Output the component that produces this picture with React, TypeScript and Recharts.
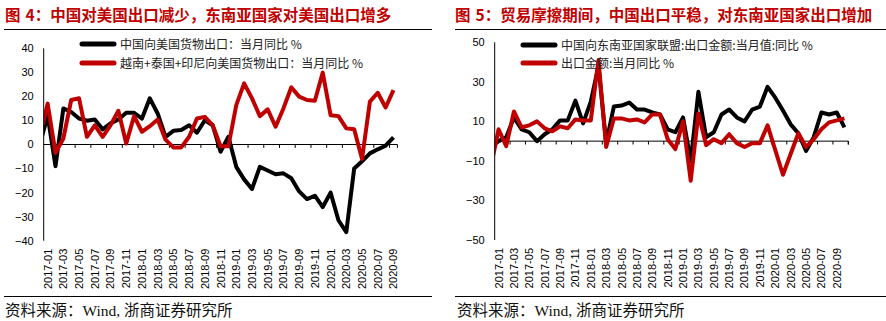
import React from 'react';
import { LineChart, Line, XAxis, YAxis, ReferenceLine, Legend } from 'recharts';

// ---------- categories (first entry 2016-12 is only partly visible at the left edge) ----------
const leftMonths = [
  '2016-12',
  '2017-01', '2017-02', '2017-03', '2017-04', '2017-05', '2017-06', '2017-07', '2017-08', '2017-09', '2017-10', '2017-11', '2017-12',
  '2018-01', '2018-02', '2018-03', '2018-04', '2018-05', '2018-06', '2018-07', '2018-08', '2018-09', '2018-10', '2018-11', '2018-12',
  '2019-01', '2019-02', '2019-03', '2019-04', '2019-05', '2019-06', '2019-07', '2019-08', '2019-09', '2019-10', '2019-11', '2019-12',
  '2020-01', '2020-02', '2020-03', '2020-04', '2020-05', '2020-06', '2020-07', '2020-08', '2020-09',
];
const rightMonths = [...leftMonths, '2020-10'];

const tickLabels = [
  '2017-01', '2017-03', '2017-05', '2017-07', '2017-09', '2017-11',
  '2018-01', '2018-03', '2018-05', '2018-07', '2018-09', '2018-11',
  '2019-01', '2019-03', '2019-05', '2019-07', '2019-09', '2019-11',
  '2020-01', '2020-03', '2020-05', '2020-07', '2020-09',
];

// ---------- series (figure 4) ----------
const chinaToUS = [
  0,
  12, -9, 15, 13.5, 10.8, 9.9, 10.4, 6.3, 8.8, 10.4, 13.2, 13.2,
  10.8, 19.2, 12.9, 3.2, 5.7, 6, 8, 4.9, 10.1, 8, -3, 3.2,
  -9.3, -14.5, -18.5, -9.3, -10.8, -12.4, -12, -14, -19.5, -22.7, -21.3, -26,
  -20, -31.5, -36.4, -10, -7, -3.7, -2, -0.5, 3,
];
const seaToUS = [
  3,
  17, -3.5, 2.5, 18.5, 19.2, 3.2, 8, 3.2, 8, 14, 0.4, 11.8,
  5.3, 7.6, 10.4, 2, -1.2, -1.2, 3.2, 10.8, 11.5, 8, -0.7, -0.7,
  16.4, 25.4, 19.2, 11.8, 14.6, 7.4, 15, 23.8, 19.9, 18.5, 18.2, 29.9,
  12.2, 11.8, 6.7, 6.3, -6, 17.8, 21.5, 15.4, 22.6,
];

// ---------- series (figure 5) ----------
const chinaToASEAN = [
  -3,
  0, 2, 12, 6, 4.5, 0, 3.5, 6, 10.5, 10.5, 20.5, 9,
  20, 38, -1, 17.5, 18, 19.5, 16, 16, 14.5, 13.5, 6, 4.5,
  12, -10, 25, 2, 4.5, 13.5, 16, 12, 10, 16, 17.5, 27.5,
  22, 15.5, 8.5, 4, -5, 2, 14.5, 13.5, 14.5, 7,
];
const chinaExportTotal = [
  -13,
  6, -2.5, 15, 7, 8, 10, 6.5, 5, 7.5, 6.5, 11, 10.5,
  10.5, 41, -3, 11.5, 11.5, 10.5, 11, 9.5, 13.5, 13.5, 1, -4,
  10, -20, 14, -2, 1, -1, 3.5, -1, -3, -1, -1, 8,
  -4.5, -17, -6.5, 4, -3, 1, 6, 9.5, 10.5, 11.5,
];

const leftYTicks = [40, 30, 20, 10, 0, -10, -20, -30, -40];
const rightYTicks = [50, 30, 10, -10, -30, -50];

const leftNames = ['中国向美国货物出口：当月同比 %', '越南+泰国+印尼向美国货物出口：当月同比 %'];
const rightNames = ['中国向东南亚国家联盟:出口金额:当月值:同比 %', '出口金额:当月同比 %'];

const RED = '#C00000';
const BLACK = '#000000';
const TICK_FONT = '"Liberation Sans", Arial, sans-serif';
const CJK_FONT = '"Noto Sans CJK SC", sans-serif';

const leftData = leftMonths.map((m, i) => ({ idx: i, month: m, a: chinaToUS[i], b: seaToUS[i] }));
const rightData = rightMonths.map((m, i) => ({ idx: i, month: m, a: chinaToASEAN[i], b: chinaExportTotal[i] }));

const leftTickIdx = tickLabels.map((m) => leftMonths.indexOf(m));
const rightTickIdx = tickLabels.map((m) => rightMonths.indexOf(m));

// tick marks on the zero axis sit on band boundaries, every two months
const boundaryTicks = (count: number) => {
  const out: number[] = [];
  for (let k = 2; k < count; k += 2) out.push(k + 0.5);
  out.push(count - 0.5);
  return out;
};

const fmtY = (v: number) => String(v).replace('-', '\u2212');

const MonthTick = (props: any) => {
  const { x, y, payload, months } = props;
  return (
    <g transform={`translate(${x},${y})`}>
      <text transform="rotate(-90)" textAnchor="end" dy="0.36em" fontSize={11} fontFamily={TICK_FONT} fill="#000">
        {months[payload.value]}
      </text>
    </g>
  );
};

const LegendBox = (props: any) => {
  const { payload } = props;
  return (
    <div>
      {(payload || []).map((it: any, i: number) => (
        <div key={i} style={{ display: 'flex', alignItems: 'center', height: 18.5, whiteSpace: 'nowrap' }}>
          <svg width={38} height={8} style={{ display: 'block' }}>
            <line x1={3} y1={4} x2={35} y2={4} stroke={it.color} strokeWidth={5} strokeLinecap="round" />
          </svg>
          <span style={{ marginLeft: 3, fontSize: 12, fontFamily: CJK_FONT, color: '#222', lineHeight: '14px' }}>{it.value}</span>
        </div>
      ))}
    </div>
  );
};

type PanelProps = {
  data: any[];
  months: string[];
  tickIdx: number[];
  yTicks: number[];
  yDomain: [number, number];
  names: string[];
  margin: { top: number; right: number; bottom: number; left: number };
  yWidth: number;
  tickLen: number;
  legendPos: { left: number; top: number };
};

const Panel = ({ data, months, tickIdx, yTicks, yDomain, names, margin, yWidth, tickLen, legendPos }: PanelProps) => {
  const n = months.length;
  const zTicks = boundaryTicks(n);
  return (
    <LineChart width={443} height={300} data={data} margin={margin}>
      <XAxis
        dataKey="idx"
        type="number"
        domain={[0.5, n - 0.5]}
        allowDataOverflow
        ticks={tickIdx}
        interval={0}
        axisLine={false}
        tickLine={false}
        height={50}
        tick={(p: any) => <MonthTick {...p} months={months} />}
      />
      <YAxis
        type="number"
        domain={yDomain}
        ticks={yTicks}
        interval={0}
        width={yWidth}
        tickLine={false}
        tickSize={6}
        tickMargin={4}
        axisLine={{ stroke: '#000', strokeWidth: 1 }}
        tickFormatter={fmtY}
        tick={{ fill: '#000', fontSize: 11, fontFamily: TICK_FONT }}
      />
      <ReferenceLine y={0} stroke="#000" strokeWidth={1} />
      {zTicks.map((t) => (
        <ReferenceLine
          key={t}
          segment={[{ x: t, y: 0 }, { x: t, y: -tickLen }]}
          stroke="#000"
          strokeWidth={1}
        />
      ))}
      <Line dataKey="a" name={names[0]} stroke={BLACK} strokeWidth={4} dot={false} strokeLinejoin="round" isAnimationActive={false} />
      <Line dataKey="b" name={names[1]} stroke={RED} strokeWidth={4} dot={false} strokeLinejoin="round" isAnimationActive={false} />
      <Legend
        layout="vertical"
        align="center"
        verticalAlign="middle"
        content={<LegendBox />}
        wrapperStyle={{ position: 'absolute', left: legendPos.left, top: legendPos.top, width: 'auto' }}
      />
    </LineChart>
  );
};

const titleStyle: React.CSSProperties = {
  position: 'absolute',
  top: 6,
  fontSize: 15.5,
  lineHeight: '16px',
  fontWeight: 700,
  color: RED,
  fontFamily: CJK_FONT,
  whiteSpace: 'nowrap',
};
const sourceStyle: React.CSSProperties = {
  position: 'absolute',
  top: 303,
  fontSize: 15.5,
  lineHeight: '16px',
  color: '#111',
  fontFamily: '"Liberation Serif", "Noto Sans CJK SC", serif',
  whiteSpace: 'nowrap',
};
const rule = (left: number, top: number, width: number): React.CSSProperties => ({
  position: 'absolute', left, top, width, height: 1, background: '#000',
});

export default function App() {
  return (
    <div style={{ position: 'absolute', left: 0, top: 0, width: 886, height: 321, background: '#fff', overflow: 'hidden' }}>
      <div style={{ ...titleStyle, left: 5 }}><span style={{ marginRight: 5 }}>图</span>4：中国对美国出口减少，东南亚国家对美国出口增多</div>
      <div style={{ ...titleStyle, left: 455 }}><span style={{ marginRight: 5 }}>图</span>5：贸易摩擦期间，中国出口平稳，对东南亚国家出口增加</div>
      <div style={rule(4, 29, 428)} />
      <div style={rule(455, 29, 431)} />

      <div style={{ position: 'absolute', left: 0, top: 0 }}>
        <Panel
          data={leftData}
          months={leftMonths}
          tickIdx={leftTickIdx}
          yTicks={leftYTicks}
          yDomain={[-40, 40]}
          names={leftNames}
          margin={{ top: 48.3, right: 45.6, bottom: 9.3, left: 0 }}
          yWidth={43.7}
          tickLen={1.4}
          legendPos={{ left: 79, top: 35 }}
        />
      </div>
      <div style={{ position: 'absolute', left: 443, top: 0 }}>
        <Panel
          data={rightData}
          months={rightMonths}
          tickIdx={rightTickIdx}
          yTicks={rightYTicks}
          yDomain={[-50, 50]}
          names={rightNames}
          margin={{ top: 42.3, right: 37.7, bottom: 10, left: 0 }}
          yWidth={51.7}
          tickLen={1.7}
          legendPos={{ left: 77, top: 35.5 }}
        />
      </div>

      <div style={rule(4, 296, 428)} />
      <div style={rule(455, 296, 431)} />
      <div style={{ ...sourceStyle, left: 5 }}>资料来源：Wind, 浙商证券研究所</div>
      <div style={{ ...sourceStyle, left: 457 }}>资料来源：Wind, 浙商证券研究所</div>
    </div>
  );
}
